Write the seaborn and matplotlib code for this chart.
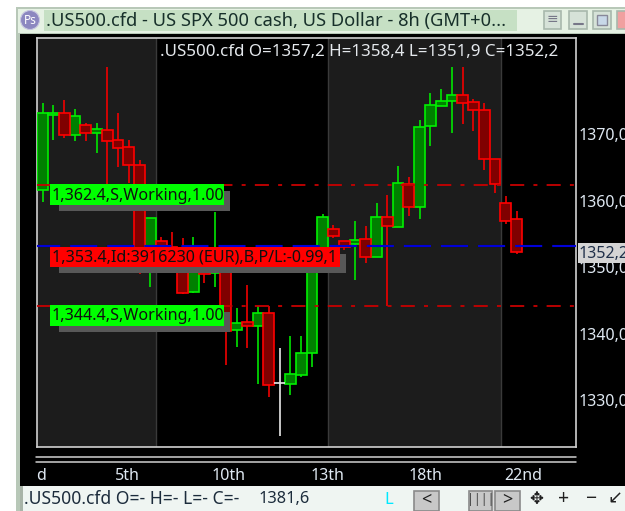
import matplotlib
matplotlib.use("Agg")
import matplotlib.pyplot as plt
from matplotlib.patches import Rectangle, Circle
import numpy as np
import pandas as pd
import seaborn as sns

opens = [1361.6,1372.9,1373.2,1369.8,1371.4,1370.2,1370.6,1369.1,1368.0,1365.3,1350.8,1353.9,1353.0,1350.8,1346.3,1350.0,1349.1,1350.8,1340.5,1341.7,1341.1,1343.1,1332.6,1332.4,1333.8,1337.1,1350.0,1355.7,1353.9,1353.5,1354.2,1351.5,1357.5,1356.0,1362.5,1359.0,1371.2,1374.2,1375.0,1375.9,1374.8,1373.6,1366.2,1359.6,1357.2]
highs = [1374.7,1374.4,1375.1,1373.8,1371.7,1371.7,1380.1,1373.2,1369.1,1366.1,1357.4,1354.5,1355.3,1354.4,1354.5,1352.0,1358.3,1351.0,1343.8,1347.3,1344.1,1344.1,1337.8,1339.6,1339.6,1350.0,1358.0,1356.3,1354.0,1356.9,1356.2,1359.6,1360.8,1365.2,1363.5,1372.1,1376.2,1376.8,1380.1,1380.0,1375.3,1374.7,1366.2,1360.7,1358.4]
lows = [1359.8,1369.1,1369.4,1368.9,1368.9,1367.1,1361.6,1365.0,1362.6,1349.0,1347.0,1350.8,1351.0,1345.9,1346.1,1347.6,1347.0,1335.3,1338.0,1337.8,1332.4,1330.5,1324.6,1330.8,1333.5,1335.0,1349.9,1354.4,1352.6,1348.1,1350.6,1351.5,1344.1,1356.0,1357.7,1357.2,1368.2,1374.2,1370.2,1371.5,1370.5,1364.6,1361.1,1356.5,1351.9]
closes = [1373.2,1373.2,1369.8,1372.7,1370.2,1370.8,1368.9,1367.9,1365.3,1349.9,1357.4,1351.5,1352.0,1346.1,1350.8,1349.0,1349.6,1340.4,1341.6,1341.1,1343.1,1332.3,1332.6,1333.9,1337.1,1349.9,1357.5,1354.7,1353.0,1354.1,1351.5,1357.5,1356.2,1362.6,1359.0,1371.1,1374.4,1375.0,1375.9,1374.7,1373.6,1366.2,1362.5,1356.9,1352.2]
order_levels = [1362.4, 1344.1]
position_level = [1353.1]
price_ticks = [1330, 1340, 1350, 1360, 1370]
day_labels = ["d", "5th", "10th", "13th", "18th", "22nd"]
order_labels = ["1,362.4,S,Working,1.00", "1,353.4,Id:3916230 (EUR),B,P/L:-0.99,1", "1,344.4,S,Working,1.00"]

sns.set_theme(style="dark", rc={"axes.facecolor": "black", "figure.facecolor": "white"})
plt.rcParams["font.family"] = ["Noto Sans", "DejaVu Sans"]

df = pd.DataFrame({"o": opens, "h": highs, "l": lows, "c": closes})
df["i"] = np.arange(len(df))
df["low_body"] = df[["o", "c"]].min(axis=1)
df["height"] = (df["o"] - df["c"]).abs()
df["kind"] = np.where(df["c"] > df["o"], "up", np.where(df["c"] < df["o"], "down", "flat"))

W, H = 625, 511
fig = plt.figure(figsize=(W / 100, H / 100), dpi=100)

def add_px_axes(x0, y0, x1, y1, **kw):
    return fig.add_axes([x0 / W, 1 - y1 / H, (x1 - x0) / W, (y1 - y0) / H], **kw)

# window background (pixel space)
bg = add_px_axes(0, 0, W, H)
bg.set_xlim(0, W); bg.set_ylim(H, 0); bg.axis("off"); bg.set_zorder(0)
def rect(a, x0, y0, x1, y1, fc, ec="none", lw=0, z=1):
    a.add_patch(Rectangle((x0, y0), x1 - x0, y1 - y0, facecolor=fc, edgecolor=ec, linewidth=lw, zorder=z))
rect(bg, 16, 7, W, H, "#b8c8b8")
rect(bg, 18, 9, W, 33, "#e6f2e4")
rect(bg, 44, 10, 517, 31, "#c6e0c4")
rect(bg, 20, 34, W, 486, "black")
rect(bg, 20, 486, W, H, "#eff5f2")
rect(bg, 20, 486, 23, H, "#a8b4a8")
rect(bg, 470, 490, 495, 511, "#dcdcdc")
bg.add_patch(Circle((30, 20), 9.5, facecolor="#8c88c0", edgecolor="#c8c8e0", linewidth=0.8, zorder=2))
bg.text(30, 20.5, "Ps", color="white", fontsize=8.5, ha="center", va="center", zorder=3)
bg.text(46, 21, ".US500.cfd - US SPX 500 cash, US Dollar - 8h (GMT+0...", color="#17302a",
        fontsize=13.2, fontweight="bold", ha="left", va="center", zorder=3)
for x0, x1, fc in [(544, 561, "#d6e2d8"), (569, 587, "#d6e2d8"), (593, 611, "#d6e2d8"), (617, 626, "#f0a0a0")]:
    rect(bg, x0, 11, x1, 29, fc, ec="#a8b8ac", lw=1.2, z=2)
bg.text(552.5, 19, "\u2261", color="#778", fontsize=10, ha="center", va="center", zorder=3)
bg.plot([574, 583], [24, 24], color="#778", lw=1.5, zorder=3)
rect(bg, 597, 15, 607, 25, "#c8d8e8", ec="#889", lw=1, z=3)

# main price axes
ax = add_px_axes(37, 38, 576, 447)
ax.set_zorder(1)
ax.set_facecolor("black")
for a, b in [(-0.53, 10.55), (26.49, 42.55)]:
    ax.axvspan(a, b, color="#1c1c1c", lw=0, zorder=0)
for b in (10.55, 26.49, 42.55):
    ax.axvline(b, color="#3a3a3a", lw=1, zorder=0.5)

wick_col = {"up": "#00e600", "down": "#f00000", "flat": "#e8e8e8"}
ax.vlines(df["i"], df["l"], df["h"], colors=df["kind"].map(wick_col), lw=1.2, zorder=2)
for kind, face, edge in [("up", "#008000", "#00f000"), ("down", "#800000", "#ff0000")]:
    sub = df[df["kind"] == kind]
    sns.barplot(data=sub, x="i", y="height", bottom=sub["low_body"].to_numpy(), native_scale=True,
                width=1.0, color=face, saturation=1, edgecolor=edge, linewidth=1.2,
                errorbar=None, zorder=3, ax=ax)
flat = df[df["kind"] == "flat"]
ax.hlines(flat["c"], flat["i"] - 0.5, flat["i"] + 0.5, colors="#e8e8e8", lw=1.2, zorder=3)

for lv in order_levels:
    ax.axhline(lv, color="#c80000", lw=1.3, linestyle=(0.55, (7.8, 5.1, 2.2, 5.1)), zorder=4)
ax.axhline(position_level[0], color="#0000d8", lw=1.5, linestyle=(1.9, (13, 4.8)), zorder=4)

ax.set_xlim(-0.53, 49.52)
ax.set_ylim(1323.0, 1384.4)
ax.grid(False)
ax.set_xlabel(""); ax.set_ylabel("")
ax.yaxis.tick_right()
ax.set_yticks(price_ticks)
ax.set_yticklabels([f"{v},0" for v in price_ticks], color="#dfe8f2", fontsize=11.5)
ax.set_xticks([-0.16, 7.9, 17.3, 26.4, 35.5, 44.6])
ax.set_xticklabels(day_labels, color="#dfe8f2", fontsize=11.5)
ax.tick_params(axis="both", length=0)
ax.tick_params(axis="y", pad=2)
ax.tick_params(axis="x", pad=15)
for s in ax.spines.values():
    s.set_color("#d0d0d0"); s.set_linewidth(1.2); s.set_visible(True)

# overlay: labels and status bar
ov = add_px_axes(0, 0, W, H)
ov.set_xlim(0, W); ov.set_ylim(H, 0); ov.axis("off"); ov.set_zorder(2); ov.patch.set_alpha(0)
ov.text(160, 52, ".US500.cfd O=1357,2 H=1358,4 L=1351,9 C=1352,2", color="#e4e8ec", fontsize=12.2, ha="left", va="center")
boxes = [(50, 184.5, 224, 205, "#00ff00"), (50, 247, 340, 267, "#ff0000"), (50, 305, 224, 326, "#00ff00")]
for (x0, y0, x1, y1, col), txt in zip(boxes, order_labels):
    rect(ov, x0 + 9, y0 + 7, x1 + 6, y1 + 6, "#585858", z=5)
    rect(ov, x0, y0, x1, y1, col, z=6)
    ov.text(x0 + 2, (y0 + y1) / 2 + 1, txt, color="#101010", fontsize=11.6, ha="left", va="center", zorder=7)
rect(ov, 578, 243, W, 263, "#d4d4d4", z=5)
ov.text(579, 253.5, "1352,2", color="#20304a", fontsize=11.5, ha="left", va="center", zorder=6)

ov.text(24, 499, ".US500.cfd O=- H=- L=- C=-", color="#1c2c3c", fontsize=12.6, ha="left", va="center", zorder=6)
ov.text(258, 499, "1381,6", color="#1c2c3c", fontsize=11.8, ha="left", va="center", zorder=6)
ov.text(389, 499.5, "L", color="#00e8ff", fontsize=12, fontweight="bold", ha="center", va="center", zorder=6)
for x0, x1 in [(414, 439), (469, 492), (495, 520)]:
    rect(ov, x0, 491, x1, 511, "#c8c8c8", ec="#8a8a8a", lw=1.2, z=5)
ov.text(426.5, 500, "<", color="#202020", fontsize=13, fontweight="bold", ha="center", va="center", zorder=6)
ov.text(507.5, 500, ">", color="#202020", fontsize=13, fontweight="bold", ha="center", va="center", zorder=6)
ov.text(480.5, 500, "||||", color="#404040", fontsize=9, ha="center", va="center", zorder=6)
ov.text(536, 499, "\u2725", color="#202020", fontsize=12, family="DejaVu Sans", ha="center", va="center", zorder=6)
ov.text(564, 499, "+", color="#202020", fontsize=14, ha="center", va="center", zorder=6)
ov.text(591, 499, "\u2212", color="#202020", fontsize=14, ha="center", va="center", zorder=6)
ov.text(615, 499, "\u2199", color="#202020", fontsize=13, family="DejaVu Sans", ha="center", va="center", zorder=6)

# double rule under the plot
ov.plot([36, 576], [457, 457], color="#d0d0d0", lw=1.1, zorder=3)
ov.plot([36, 576], [462, 462], color="#d0d0d0", lw=1.1, zorder=3)

fig.savefig("out.png", dpi=100)
